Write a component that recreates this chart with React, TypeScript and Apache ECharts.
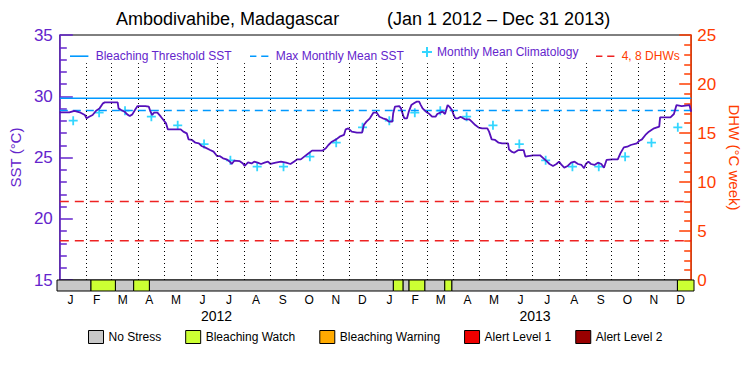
import React, { useEffect, useRef } from "react";
import * as echarts from "echarts";

const TITLE_PLACE = "Ambodivahibe, Madagascar";
const TITLE_RANGE = "(Jan 1 2012 – Dec 31 2013)";
const FONT = "'Liberation Sans', Arial, sans-serif";
const PURPLE = "#6424cc";
const ORANGE = "#ff3c00";

const monthLengths = [31, 29, 31, 30, 31, 30, 31, 31, 30, 31, 30, 31, 31, 28, 31, 30, 31, 30, 31, 31, 30, 31, 30, 31];
const monthLetters = ["J", "F", "M", "A", "M", "J", "J", "A", "S", "O", "N", "D"];
const yearLabels = ["2012", "2013"];

// Monthly mean climatology (same each year), degC
const climatology = [28.01, 28.66, 28.82, 28.33, 27.63, 26.1, 24.77, 24.25, 24.25, 25.07, 26.21, 27.46];
const maxMonthlyMean = 28.84;
const bleachingThreshold = 29.84;
const dhwLevels = [4, 8];

// [day since Jan 1 2012, SST degC]
const sstReadings: [number, number][] = [
  [0, 28.69], [11, 28.69], [17, 28.8], [23, 28.69], [29, 28.47], [31, 28.2], [34, 28.33], [38, 28.47],
  [42, 28.82], [46, 29.01], [50, 29.42], [52, 29.5], [67, 29.5], [68, 29.01], [71, 28.88], [75, 28.74],
  [78, 28.52], [81, 28.39], [84, 28.52], [87, 28.88], [90, 29.2], [99, 29.2], [103, 29.15], [105, 28.74],
  [107, 28.47], [109, 28.66], [113, 28.66], [117, 28.33], [120, 28.06], [123, 27.79], [125, 27.3], [140, 27.3],
  [143, 27.11], [147, 26.97], [149, 26.48], [153, 26.43], [157, 26.21], [161, 26.16], [164, 25.94], [168, 25.83],
  [174, 25.61], [178, 25.48], [182, 25.12], [185, 25.12], [189, 24.93], [193, 24.85], [197, 24.66], [199, 24.47],
  [202, 24.74], [208, 24.71], [212, 24.52], [214, 24.31], [218, 24.61], [222, 24.52], [225, 24.66], [229, 24.58],
  [233, 24.47], [237, 24.58], [241, 24.66], [244, 24.47], [250, 24.58], [256, 24.66], [262, 24.58], [267, 24.47],
  [271, 24.66], [275, 24.85], [279, 24.85], [283, 25.07], [287, 25.29], [292, 25.56], [304, 25.56], [308, 25.75],
  [311, 26.02], [315, 26.29], [320, 26.48], [324, 26.7], [329, 26.84], [331, 27.3], [334, 27.38], [338, 27.11],
  [344, 27.03], [350, 27.03], [352, 27.65], [355, 27.93], [359, 28.2], [363, 28.66], [367, 28.66], [370, 28.33],
  [374, 28.2], [378, 28.12], [381, 27.93], [385, 27.93], [386, 28.61], [388, 29.15], [393, 29.2], [395, 29.01],
  [398, 28.33], [399, 28.2], [402, 28.2], [404, 28.74], [407, 29.28], [410, 29.42], [413, 29.56], [416, 29.56],
  [418, 29.28], [420, 29.01], [424, 28.74], [428, 28.55], [431, 28.33], [435, 28.33], [437, 28.55], [443, 28.74],
  [446, 28.55], [449, 29.28], [451, 29.15], [454, 28.88], [456, 28.47], [458, 28.2], [461, 28.2], [464, 28.33],
  [469, 28.12], [474, 28.12], [477, 27.93], [481, 27.65], [485, 27.44], [489, 27.38], [495, 27.38], [497, 27.11],
  [500, 26.48], [504, 26.43], [508, 26.21], [512, 26.16], [519, 26.16], [520, 25.67], [523, 25.48], [526, 25.39],
  [531, 25.61], [537, 25.61], [539, 25.07], [542, 25.12], [548, 25.18], [556, 25.18], [560, 24.93], [563, 24.74],
  [567, 24.47], [571, 24.31], [575, 24.47], [578, 24.66], [581, 24.39], [584, 24.17], [588, 24.31], [592, 24.58],
  [596, 24.66], [600, 24.47], [604, 24.39], [607, 24.12], [609, 24.47], [612, 24.66], [615, 24.47], [619, 24.39],
  [623, 24.58], [627, 24.47], [630, 24.17], [633, 24.8], [640, 24.85], [646, 24.85], [649, 25.34], [653, 25.83],
  [657, 25.88], [661, 26.02], [668, 26.16], [671, 26.37], [674, 26.48], [678, 26.84], [682, 27.11], [688, 27.38],
  [694, 27.52], [695, 28.28], [707, 28.28], [711, 28.55], [714, 29.28], [720, 29.2], [729, 29.28], [731, 28.74],
];

// Bleaching stress level segments: start day and level index
const stressStarts = [0, 39, 67, 88, 106, 386, 397, 404, 422, 445, 453, 712];
const stressLevels = [0, 1, 0, 1, 0, 1, 0, 1, 0, 1, 0, 1];
const stressNames = ["No Stress", "Bleaching Watch", "Bleaching Warning", "Alert Level 1", "Alert Level 2"];
const stressColors = ["#c8c8c8", "#ccff33", "#ffaa00", "#ee0000", "#990000"];

const totalDays = monthLengths.reduce((a, b) => a + b, 0);
const monthStarts: number[] = [];
monthLengths.reduce((acc, len) => {
  monthStarts.push(acc);
  return acc + len;
}, 0);
const monthMids = monthStarts.map((s, i) => s + monthLengths[i] / 2);
const boundaries = monthStarts.slice(1);
const year1Days = monthLengths.slice(0, 12).reduce((a, b) => a + b, 0);
const yearMids = [year1Days / 2, year1Days + (totalDays - year1Days) / 2];

const PLUS = "path://M3.6,0H5.4V3.6H9V5.4H5.4V9H3.6V5.4H0V3.6H3.6Z";
const SOLID_ICON = "path://M0,0H23V2H0Z";
const DASH_ICON = "path://M0,0H8V2H0Z M14,0H23V2H14Z";

function buildOption(): any {
  const climData = monthMids.map((m, i) => [m, climatology[i % 12]]);
  const stressSeg = stressStarts.map((s, i) => ({
    start: s,
    end: i + 1 < stressStarts.length ? stressStarts[i + 1] : totalDays,
    level: stressLevels[i],
  }));
  const stressSeries = stressNames.map((name, li) => ({
    type: "custom",
    name,
    xAxisIndex: 1,
    yAxisIndex: 2,
    itemStyle: { color: stressColors[li] },
    encode: { x: [0, 1] },
    silent: true,
    data: stressSeg.filter((s) => s.level === li).map((s) => [s.start, s.end]),
    renderItem: (params: any, api: any) => {
      const p0 = api.coord([api.value(0), 1]);
      const p1 = api.coord([api.value(1), 0]);
      return {
        type: "rect",
        shape: { x: p0[0], y: p0[1], width: p1[0] - p0[0], height: p1[1] - p0[1] },
        style: { fill: stressColors[li], stroke: "#000", lineWidth: 1 },
      };
    },
  }));

  const topLegend = (name: string, left: number, color: string, icon: string, w: number, h: number) => ({
    data: [name],
    left,
    top: 51 - h / 2,
    padding: 0,
    icon,
    itemWidth: w,
    itemHeight: h,
    itemGap: 0,
    selectedMode: false,
    textStyle: { color, fontSize: 12, fontFamily: FONT },
  });

  return {
    animation: false,
    backgroundColor: "#fff",
    title: [
      { text: TITLE_PLACE, left: 116, top: 10, padding: 0, textStyle: { fontSize: 18, fontWeight: "normal", color: "#000", fontFamily: FONT } },
      { text: TITLE_RANGE, left: 387, top: 10, padding: 0, textStyle: { fontSize: 18, fontWeight: "normal", color: "#000", fontFamily: FONT } },
    ],
    legend: [
      topLegend("Bleaching Threshold SST", 70, PURPLE, SOLID_ICON, 23, 1.6),
      topLegend("Max Monthly Mean SST", 250, PURPLE, DASH_ICON, 23, 1.6),
      topLegend("Monthly Mean Climatology", 422, PURPLE, PLUS, 10, 10),
      topLegend("4, 8 DHWs", 596, ORANGE, DASH_ICON, 23, 1.6),
      {
        data: stressNames,
        left: 88,
        top: 330,
        padding: 0,
        itemWidth: 15,
        itemHeight: 13,
        itemGap: 24,
        icon: "rect",
        selectedMode: false,
        itemStyle: { borderColor: "#000", borderWidth: 1 },
        textStyle: { color: "#000", fontSize: 12, fontFamily: FONT },
      },
    ],
    grid: [
      { left: 57, right: 56, top: 35, height: 245, show: true, borderColor: "#000", borderWidth: 1, backgroundColor: "transparent" },
      { left: 57, right: 56, top: 280, height: 11 },
    ],
    xAxis: [
      { type: "value", gridIndex: 0, min: 0, max: totalDays, show: false },
      {
        type: "value",
        gridIndex: 1,
        min: 0,
        max: totalDays,
        position: "bottom",
        axisLine: { show: false },
        axisTick: { show: false },
        splitLine: { show: false },
        axisLabel: {
          customValues: monthMids,
          margin: 2,
          color: "#000",
          fontSize: 12,
          lineHeight: 13,
          fontFamily: FONT,
          formatter: (v: number) => {
            let best = 0;
            monthMids.forEach((m, i) => {
              if (Math.abs(m - v) < Math.abs(monthMids[best] - v)) best = i;
            });
            return monthLetters[best % 12];
          },
        },
      },
      {
        type: "value",
        gridIndex: 1,
        min: 0,
        max: totalDays,
        position: "bottom",
        offset: 0,
        axisLine: { show: false },
        axisTick: { show: false },
        splitLine: { show: false },
        axisLabel: {
          customValues: yearMids,
          margin: 17,
          color: "#000",
          fontSize: 14,
          lineHeight: 15,
          fontFamily: FONT,
          formatter: (v: number) => (v < year1Days ? yearLabels[0] : yearLabels[1]),
        },
      },
    ],
    yAxis: [
      {
        type: "value",
        gridIndex: 0,
        position: "left",
        min: 15,
        max: 35,
        interval: 5,
        name: "SST (°C)",
        nameLocation: "middle",
        nameRotate: 90,
        nameGap: 33,
        nameTextStyle: { color: PURPLE, fontSize: 15, fontFamily: FONT },
        axisLine: { show: true, lineStyle: { color: PURPLE, width: 1.5 } },
        axisTick: { show: true, inside: true, length: 13, lineStyle: { color: PURPLE, width: 1.5 } },
        minorTick: { show: true, splitNumber: 5, length: 7, lineStyle: { color: PURPLE, width: 1.5 } },
        splitLine: { show: false },
        axisLabel: { color: PURPLE, fontSize: 17, margin: 7, fontFamily: FONT },
      },
      {
        type: "value",
        gridIndex: 0,
        position: "right",
        min: 0,
        max: 25,
        interval: 5,
        name: "DHW (°C week)",
        nameLocation: "middle",
        nameRotate: -90,
        nameGap: 30,
        nameTextStyle: { color: ORANGE, fontSize: 15, fontFamily: FONT },
        axisLine: { show: true, lineStyle: { color: ORANGE, width: 1.5 } },
        axisTick: { show: true, inside: true, length: 12, lineStyle: { color: ORANGE, width: 1.5 } },
        minorTick: { show: true, splitNumber: 5, length: 7, lineStyle: { color: ORANGE, width: 1.5 } },
        splitLine: { show: false },
        axisLabel: { color: ORANGE, fontSize: 17, margin: 6, fontFamily: FONT },
      },
      { type: "value", gridIndex: 1, min: 0, max: 1, show: false },
    ],
    series: [
      {
        type: "line",
        name: "4, 8 DHWs",
        xAxisIndex: 0,
        yAxisIndex: 1,
        symbol: "none",
        silent: true,
        itemStyle: { color: "#ee2222" },
        lineStyle: { color: "#ee2222", width: 1.5, type: [9, 6] },
        data: [[0, dhwLevels[0]], [totalDays, dhwLevels[0]]],
      },
      {
        type: "line",
        name: "4, 8 DHWs",
        xAxisIndex: 0,
        yAxisIndex: 1,
        symbol: "none",
        silent: true,
        itemStyle: { color: "#ee2222" },
        lineStyle: { color: "#ee2222", width: 1.5, type: [9, 6] },
        data: [[0, dhwLevels[1]], [totalDays, dhwLevels[1]]],
      },
      {
        type: "line",
        name: "Bleaching Threshold SST",
        xAxisIndex: 0,
        yAxisIndex: 0,
        symbol: "none",
        silent: true,
        itemStyle: { color: "#0099ff" },
        lineStyle: { color: "#0099ff", width: 1.5 },
        data: [[0, bleachingThreshold], [totalDays, bleachingThreshold]],
      },
      {
        type: "line",
        name: "Max Monthly Mean SST",
        xAxisIndex: 0,
        yAxisIndex: 0,
        symbol: "none",
        silent: true,
        itemStyle: { color: "#0099ff" },
        lineStyle: { color: "#0099ff", width: 1.5, type: [8, 5] },
        data: [[0, maxMonthlyMean], [totalDays, maxMonthlyMean]],
      },
      {
        type: "line",
        name: "SST",
        xAxisIndex: 0,
        yAxisIndex: 0,
        symbol: "none",
        silent: true,
        lineStyle: { color: "#5510bb", width: 1.8 },
        itemStyle: { color: "#5510bb" },
        data: sstReadings,
        markLine: {
          silent: true,
          symbol: ["none", "none"],
          label: { show: false },
          emphasis: { disabled: true },
          lineStyle: { color: "#000", width: 1, type: [1, 3] },
          data: boundaries.map((b) => [{ coord: [b, 15] }, { coord: [b, 32.7] }]),
        },
      },
      {
        type: "scatter",
        name: "Monthly Mean Climatology",
        xAxisIndex: 0,
        yAxisIndex: 0,
        symbol: PLUS,
        symbolSize: 9,
        silent: true,
        itemStyle: { color: "#00ccff" },
        data: climData,
      },
      ...stressSeries,
    ],
  };
}

export default function App() {
  const ref = useRef<HTMLDivElement>(null);
  useEffect(() => {
    const chart = echarts.init(ref.current!, null, { renderer: "svg" });
    chart.setOption(buildOption());
    return () => chart.dispose();
  }, []);
  return <div ref={ref} style={{ position: "absolute", left: 0, top: 0, width: 750, height: 375 }} />;
}
